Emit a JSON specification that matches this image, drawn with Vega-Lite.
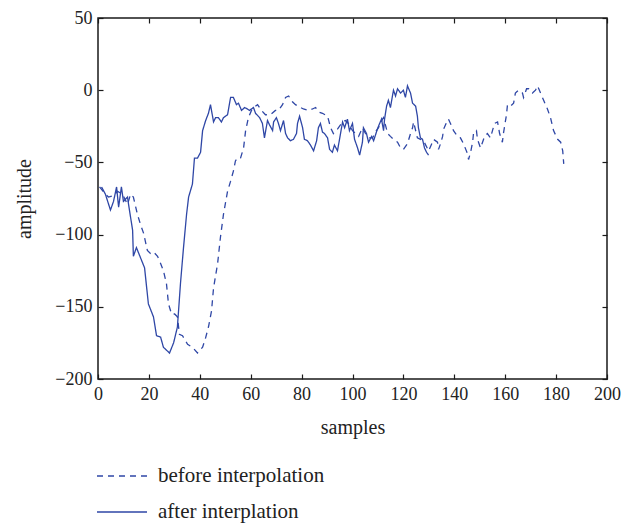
{
  "$schema": "https://vega.github.io/schema/vega-lite/v6.json",
  "width": 509,
  "height": 361,
  "autosize": "none",
  "padding": {"left": 98, "top": 18, "right": 19, "bottom": 145},
  "config": {
    "font": "Liberation Serif",
    "view": {"stroke": "#1a1a1a", "strokeWidth": 1.5},
    "axis": {
      "grid": false,
      "domain": false,
      "labelFlush": false,
      "tickColor": "#1a1a1a",
      "tickWidth": 1.2,
      "tickSize": -5,
      "labelFont": "Liberation Serif",
      "labelFontSize": 18,
      "labelColor": "#222222",
      "titleFont": "Liberation Serif",
      "titleFontSize": 20,
      "titleFontWeight": "normal",
      "titleColor": "#222222"
    }
  },
  "datasets": {
    "signals": [
      {"sample": 1.4, "amplitude": -67, "series": "after interplation"},
      {"sample": 2.9, "amplitude": -72, "series": "after interplation"},
      {"sample": 4.9, "amplitude": -83, "series": "after interplation"},
      {"sample": 6.1, "amplitude": -77, "series": "after interplation"},
      {"sample": 7.3, "amplitude": -67, "series": "after interplation"},
      {"sample": 8.1, "amplitude": -81, "series": "after interplation"},
      {"sample": 9.2, "amplitude": -67, "series": "after interplation"},
      {"sample": 10.0, "amplitude": -77, "series": "after interplation"},
      {"sample": 11.6, "amplitude": -74, "series": "after interplation"},
      {"sample": 12.0, "amplitude": -79, "series": "after interplation"},
      {"sample": 13.6, "amplitude": -97, "series": "after interplation"},
      {"sample": 13.9, "amplitude": -115, "series": "after interplation"},
      {"sample": 15.1, "amplitude": -109, "series": "after interplation"},
      {"sample": 16.7, "amplitude": -116, "series": "after interplation"},
      {"sample": 18.3, "amplitude": -123, "series": "after interplation"},
      {"sample": 19.8, "amplitude": -148, "series": "after interplation"},
      {"sample": 21.8, "amplitude": -157, "series": "after interplation"},
      {"sample": 23.0, "amplitude": -170, "series": "after interplation"},
      {"sample": 24.6, "amplitude": -171, "series": "after interplation"},
      {"sample": 25.7, "amplitude": -178, "series": "after interplation"},
      {"sample": 28.1, "amplitude": -182, "series": "after interplation"},
      {"sample": 29.7, "amplitude": -175, "series": "after interplation"},
      {"sample": 31.2, "amplitude": -164, "series": "after interplation"},
      {"sample": 32.4, "amplitude": -134, "series": "after interplation"},
      {"sample": 33.6, "amplitude": -109, "series": "after interplation"},
      {"sample": 34.8, "amplitude": -86, "series": "after interplation"},
      {"sample": 35.6, "amplitude": -74, "series": "after interplation"},
      {"sample": 37.1, "amplitude": -65, "series": "after interplation"},
      {"sample": 37.9, "amplitude": -47, "series": "after interplation"},
      {"sample": 39.1, "amplitude": -47, "series": "after interplation"},
      {"sample": 40.3, "amplitude": -43, "series": "after interplation"},
      {"sample": 41.1, "amplitude": -28, "series": "after interplation"},
      {"sample": 42.3, "amplitude": -21, "series": "after interplation"},
      {"sample": 43.4, "amplitude": -16, "series": "after interplation"},
      {"sample": 44.2, "amplitude": -10, "series": "after interplation"},
      {"sample": 45.4, "amplitude": -22, "series": "after interplation"},
      {"sample": 46.2, "amplitude": -19, "series": "after interplation"},
      {"sample": 47.3, "amplitude": -19, "series": "after interplation"},
      {"sample": 48.5, "amplitude": -22, "series": "after interplation"},
      {"sample": 49.3, "amplitude": -19, "series": "after interplation"},
      {"sample": 50.9, "amplitude": -17, "series": "after interplation"},
      {"sample": 52.1, "amplitude": -5, "series": "after interplation"},
      {"sample": 53.2, "amplitude": -5, "series": "after interplation"},
      {"sample": 54.4, "amplitude": -10, "series": "after interplation"},
      {"sample": 55.2, "amplitude": -9, "series": "after interplation"},
      {"sample": 56.4, "amplitude": -14, "series": "after interplation"},
      {"sample": 57.6, "amplitude": -12, "series": "after interplation"},
      {"sample": 58.7, "amplitude": -13, "series": "after interplation"},
      {"sample": 59.5, "amplitude": -14, "series": "after interplation"},
      {"sample": 61.1, "amplitude": -12, "series": "after interplation"},
      {"sample": 61.9, "amplitude": -16, "series": "after interplation"},
      {"sample": 63.5, "amplitude": -19, "series": "after interplation"},
      {"sample": 64.6, "amplitude": -23, "series": "after interplation"},
      {"sample": 65.4, "amplitude": -33, "series": "after interplation"},
      {"sample": 66.6, "amplitude": -21, "series": "after interplation"},
      {"sample": 67.4, "amplitude": -24, "series": "after interplation"},
      {"sample": 68.6, "amplitude": -28, "series": "after interplation"},
      {"sample": 69.0, "amplitude": -22, "series": "after interplation"},
      {"sample": 70.1, "amplitude": -19, "series": "after interplation"},
      {"sample": 70.9, "amplitude": -23, "series": "after interplation"},
      {"sample": 71.7, "amplitude": -28, "series": "after interplation"},
      {"sample": 72.9, "amplitude": -21, "series": "after interplation"},
      {"sample": 73.7, "amplitude": -30, "series": "after interplation"},
      {"sample": 74.5, "amplitude": -33, "series": "after interplation"},
      {"sample": 75.6, "amplitude": -35, "series": "after interplation"},
      {"sample": 76.8, "amplitude": -34, "series": "after interplation"},
      {"sample": 78.0, "amplitude": -30, "series": "after interplation"},
      {"sample": 78.4, "amplitude": -23, "series": "after interplation"},
      {"sample": 79.2, "amplitude": -18, "series": "after interplation"},
      {"sample": 80.4, "amplitude": -26, "series": "after interplation"},
      {"sample": 81.1, "amplitude": -34, "series": "after interplation"},
      {"sample": 82.3, "amplitude": -35, "series": "after interplation"},
      {"sample": 83.5, "amplitude": -38, "series": "after interplation"},
      {"sample": 84.7, "amplitude": -42, "series": "after interplation"},
      {"sample": 85.9, "amplitude": -35, "series": "after interplation"},
      {"sample": 86.6, "amplitude": -26, "series": "after interplation"},
      {"sample": 87.4, "amplitude": -23, "series": "after interplation"},
      {"sample": 88.2, "amplitude": -29, "series": "after interplation"},
      {"sample": 89.0, "amplitude": -30, "series": "after interplation"},
      {"sample": 90.2, "amplitude": -33, "series": "after interplation"},
      {"sample": 91.0, "amplitude": -41, "series": "after interplation"},
      {"sample": 92.1, "amplitude": -43, "series": "after interplation"},
      {"sample": 92.9, "amplitude": -38, "series": "after interplation"},
      {"sample": 94.1, "amplitude": -42, "series": "after interplation"},
      {"sample": 94.9, "amplitude": -34, "series": "after interplation"},
      {"sample": 96.1, "amplitude": -22, "series": "after interplation"},
      {"sample": 96.9, "amplitude": -26, "series": "after interplation"},
      {"sample": 98.0, "amplitude": -20, "series": "after interplation"},
      {"sample": 98.8, "amplitude": -28, "series": "after interplation"},
      {"sample": 100.0, "amplitude": -23, "series": "after interplation"},
      {"sample": 100.8, "amplitude": -34, "series": "after interplation"},
      {"sample": 102.0, "amplitude": -40, "series": "after interplation"},
      {"sample": 102.8, "amplitude": -45, "series": "after interplation"},
      {"sample": 103.9, "amplitude": -36, "series": "after interplation"},
      {"sample": 104.3, "amplitude": -26, "series": "after interplation"},
      {"sample": 105.5, "amplitude": -30, "series": "after interplation"},
      {"sample": 106.3, "amplitude": -36, "series": "after interplation"},
      {"sample": 107.5, "amplitude": -32, "series": "after interplation"},
      {"sample": 108.3, "amplitude": -35, "series": "after interplation"},
      {"sample": 109.4, "amplitude": -29, "series": "after interplation"},
      {"sample": 110.2, "amplitude": -25, "series": "after interplation"},
      {"sample": 111.4, "amplitude": -20, "series": "after interplation"},
      {"sample": 112.2, "amplitude": -28, "series": "after interplation"},
      {"sample": 112.6, "amplitude": -20, "series": "after interplation"},
      {"sample": 113.4, "amplitude": -11, "series": "after interplation"},
      {"sample": 114.1, "amplitude": -7, "series": "after interplation"},
      {"sample": 114.9, "amplitude": -12, "series": "after interplation"},
      {"sample": 116.1, "amplitude": 0, "series": "after interplation"},
      {"sample": 116.9, "amplitude": -4, "series": "after interplation"},
      {"sample": 117.7, "amplitude": 1, "series": "after interplation"},
      {"sample": 118.9, "amplitude": -2, "series": "after interplation"},
      {"sample": 120.0, "amplitude": 0, "series": "after interplation"},
      {"sample": 120.8, "amplitude": -5, "series": "after interplation"},
      {"sample": 121.6, "amplitude": 3, "series": "after interplation"},
      {"sample": 122.8, "amplitude": -2, "series": "after interplation"},
      {"sample": 123.6, "amplitude": -9, "series": "after interplation"},
      {"sample": 124.8, "amplitude": -11, "series": "after interplation"},
      {"sample": 125.5, "amplitude": -18, "series": "after interplation"},
      {"sample": 125.9, "amplitude": -26, "series": "after interplation"},
      {"sample": 126.7, "amplitude": -33, "series": "after interplation"},
      {"sample": 127.5, "amplitude": -34, "series": "after interplation"},
      {"sample": 128.3, "amplitude": -40, "series": "after interplation"},
      {"sample": 129.1, "amplitude": -43, "series": "after interplation"},
      {"sample": 129.9, "amplitude": -45, "series": "after interplation"},

      {"sample": 0.6, "amplitude": -67, "series": "before interpolation"},
      {"sample": 2.9, "amplitude": -72, "series": "before interpolation"},
      {"sample": 4.1, "amplitude": -74, "series": "before interpolation"},
      {"sample": 6.1, "amplitude": -73, "series": "before interpolation"},
      {"sample": 7.7, "amplitude": -70, "series": "before interpolation"},
      {"sample": 9.6, "amplitude": -72, "series": "before interpolation"},
      {"sample": 11.6, "amplitude": -79, "series": "before interpolation"},
      {"sample": 12.8, "amplitude": -72, "series": "before interpolation"},
      {"sample": 13.9, "amplitude": -74, "series": "before interpolation"},
      {"sample": 15.5, "amplitude": -86, "series": "before interpolation"},
      {"sample": 16.7, "amplitude": -93, "series": "before interpolation"},
      {"sample": 17.9, "amplitude": -99, "series": "before interpolation"},
      {"sample": 19.4, "amplitude": -111, "series": "before interpolation"},
      {"sample": 20.6, "amplitude": -113, "series": "before interpolation"},
      {"sample": 21.8, "amplitude": -112, "series": "before interpolation"},
      {"sample": 23.4, "amplitude": -115, "series": "before interpolation"},
      {"sample": 24.6, "amplitude": -120, "series": "before interpolation"},
      {"sample": 25.7, "amplitude": -125, "series": "before interpolation"},
      {"sample": 26.9, "amplitude": -134, "series": "before interpolation"},
      {"sample": 27.7, "amplitude": -148, "series": "before interpolation"},
      {"sample": 28.9, "amplitude": -155, "series": "before interpolation"},
      {"sample": 30.1, "amplitude": -155, "series": "before interpolation"},
      {"sample": 31.2, "amplitude": -157, "series": "before interpolation"},
      {"sample": 32.0, "amplitude": -169, "series": "before interpolation"},
      {"sample": 33.2, "amplitude": -170, "series": "before interpolation"},
      {"sample": 35.2, "amplitude": -176, "series": "before interpolation"},
      {"sample": 37.1, "amplitude": -178, "series": "before interpolation"},
      {"sample": 39.1, "amplitude": -182, "series": "before interpolation"},
      {"sample": 41.1, "amplitude": -178, "series": "before interpolation"},
      {"sample": 42.2, "amplitude": -172, "series": "before interpolation"},
      {"sample": 43.4, "amplitude": -164, "series": "before interpolation"},
      {"sample": 44.6, "amplitude": -153, "series": "before interpolation"},
      {"sample": 45.4, "amplitude": -137, "series": "before interpolation"},
      {"sample": 47.0, "amplitude": -120, "series": "before interpolation"},
      {"sample": 48.1, "amplitude": -102, "series": "before interpolation"},
      {"sample": 49.3, "amplitude": -86, "series": "before interpolation"},
      {"sample": 50.9, "amplitude": -70, "series": "before interpolation"},
      {"sample": 52.1, "amplitude": -63, "series": "before interpolation"},
      {"sample": 53.2, "amplitude": -56, "series": "before interpolation"},
      {"sample": 54.0, "amplitude": -49, "series": "before interpolation"},
      {"sample": 54.8, "amplitude": -47, "series": "before interpolation"},
      {"sample": 56.0, "amplitude": -47, "series": "before interpolation"},
      {"sample": 57.2, "amplitude": -40, "series": "before interpolation"},
      {"sample": 58.0, "amplitude": -28, "series": "before interpolation"},
      {"sample": 59.1, "amplitude": -19, "series": "before interpolation"},
      {"sample": 60.3, "amplitude": -14, "series": "before interpolation"},
      {"sample": 61.1, "amplitude": -12, "series": "before interpolation"},
      {"sample": 62.7, "amplitude": -10, "series": "before interpolation"},
      {"sample": 64.2, "amplitude": -14, "series": "before interpolation"},
      {"sample": 65.8, "amplitude": -17, "series": "before interpolation"},
      {"sample": 67.8, "amplitude": -17, "series": "before interpolation"},
      {"sample": 69.7, "amplitude": -14, "series": "before interpolation"},
      {"sample": 70.9, "amplitude": -14, "series": "before interpolation"},
      {"sample": 72.5, "amplitude": -10, "series": "before interpolation"},
      {"sample": 73.7, "amplitude": -5, "series": "before interpolation"},
      {"sample": 74.9, "amplitude": -4, "series": "before interpolation"},
      {"sample": 76.4, "amplitude": -8, "series": "before interpolation"},
      {"sample": 77.6, "amplitude": -10, "series": "before interpolation"},
      {"sample": 79.6, "amplitude": -12, "series": "before interpolation"},
      {"sample": 80.7, "amplitude": -13, "series": "before interpolation"},
      {"sample": 82.7, "amplitude": -14, "series": "before interpolation"},
      {"sample": 84.3, "amplitude": -13, "series": "before interpolation"},
      {"sample": 85.5, "amplitude": -12, "series": "before interpolation"},
      {"sample": 86.6, "amplitude": -15, "series": "before interpolation"},
      {"sample": 88.2, "amplitude": -16, "series": "before interpolation"},
      {"sample": 90.2, "amplitude": -18, "series": "before interpolation"},
      {"sample": 91.4, "amplitude": -26, "series": "before interpolation"},
      {"sample": 92.5, "amplitude": -30, "series": "before interpolation"},
      {"sample": 94.1, "amplitude": -27, "series": "before interpolation"},
      {"sample": 96.1, "amplitude": -22, "series": "before interpolation"},
      {"sample": 97.2, "amplitude": -21, "series": "before interpolation"},
      {"sample": 98.4, "amplitude": -23, "series": "before interpolation"},
      {"sample": 100.0, "amplitude": -28, "series": "before interpolation"},
      {"sample": 101.2, "amplitude": -30, "series": "before interpolation"},
      {"sample": 102.4, "amplitude": -32, "series": "before interpolation"},
      {"sample": 103.9, "amplitude": -26, "series": "before interpolation"},
      {"sample": 105.1, "amplitude": -30, "series": "before interpolation"},
      {"sample": 106.3, "amplitude": -33, "series": "before interpolation"},
      {"sample": 107.9, "amplitude": -33, "series": "before interpolation"},
      {"sample": 109.0, "amplitude": -29, "series": "before interpolation"},
      {"sample": 110.2, "amplitude": -26, "series": "before interpolation"},
      {"sample": 111.8, "amplitude": -20, "series": "before interpolation"},
      {"sample": 112.2, "amplitude": -19, "series": "before interpolation"},
      {"sample": 113.8, "amplitude": -30, "series": "before interpolation"},
      {"sample": 114.9, "amplitude": -32, "series": "before interpolation"},
      {"sample": 116.1, "amplitude": -34, "series": "before interpolation"},
      {"sample": 117.7, "amplitude": -36, "series": "before interpolation"},
      {"sample": 118.9, "amplitude": -40, "series": "before interpolation"},
      {"sample": 120.0, "amplitude": -41, "series": "before interpolation"},
      {"sample": 121.6, "amplitude": -37, "series": "before interpolation"},
      {"sample": 122.8, "amplitude": -30, "series": "before interpolation"},
      {"sample": 123.6, "amplitude": -26, "series": "before interpolation"},
      {"sample": 124.0, "amplitude": -22, "series": "before interpolation"},
      {"sample": 125.5, "amplitude": -33, "series": "before interpolation"},
      {"sample": 126.7, "amplitude": -34, "series": "before interpolation"},
      {"sample": 127.9, "amplitude": -35, "series": "before interpolation"},
      {"sample": 129.9, "amplitude": -42, "series": "before interpolation"},
      {"sample": 131.4, "amplitude": -36, "series": "before interpolation"},
      {"sample": 131.8, "amplitude": -34, "series": "before interpolation"},
      {"sample": 133.4, "amplitude": -36, "series": "before interpolation"},
      {"sample": 133.8, "amplitude": -41, "series": "before interpolation"},
      {"sample": 134.6, "amplitude": -37, "series": "before interpolation"},
      {"sample": 135.4, "amplitude": -32, "series": "before interpolation"},
      {"sample": 135.8, "amplitude": -27, "series": "before interpolation"},
      {"sample": 137.3, "amplitude": -21, "series": "before interpolation"},
      {"sample": 137.7, "amplitude": -20, "series": "before interpolation"},
      {"sample": 138.5, "amplitude": -23, "series": "before interpolation"},
      {"sample": 139.7, "amplitude": -28, "series": "before interpolation"},
      {"sample": 141.3, "amplitude": -32, "series": "before interpolation"},
      {"sample": 142.4, "amplitude": -33, "series": "before interpolation"},
      {"sample": 143.6, "amplitude": -37, "series": "before interpolation"},
      {"sample": 145.2, "amplitude": -44, "series": "before interpolation"},
      {"sample": 145.6, "amplitude": -48, "series": "before interpolation"},
      {"sample": 146.4, "amplitude": -43, "series": "before interpolation"},
      {"sample": 147.2, "amplitude": -36, "series": "before interpolation"},
      {"sample": 147.6, "amplitude": -29, "series": "before interpolation"},
      {"sample": 148.7, "amplitude": -28, "series": "before interpolation"},
      {"sample": 149.1, "amplitude": -34, "series": "before interpolation"},
      {"sample": 150.3, "amplitude": -40, "series": "before interpolation"},
      {"sample": 151.1, "amplitude": -36, "series": "before interpolation"},
      {"sample": 151.9, "amplitude": -32, "series": "before interpolation"},
      {"sample": 153.0, "amplitude": -30, "series": "before interpolation"},
      {"sample": 154.2, "amplitude": -33, "series": "before interpolation"},
      {"sample": 155.0, "amplitude": -28, "series": "before interpolation"},
      {"sample": 155.8, "amplitude": -23, "series": "before interpolation"},
      {"sample": 157.0, "amplitude": -22, "series": "before interpolation"},
      {"sample": 157.8, "amplitude": -30, "series": "before interpolation"},
      {"sample": 158.9, "amplitude": -36, "series": "before interpolation"},
      {"sample": 159.3, "amplitude": -30, "series": "before interpolation"},
      {"sample": 160.5, "amplitude": -17, "series": "before interpolation"},
      {"sample": 160.9, "amplitude": -10, "series": "before interpolation"},
      {"sample": 162.1, "amplitude": -11, "series": "before interpolation"},
      {"sample": 163.3, "amplitude": -9, "series": "before interpolation"},
      {"sample": 164.0, "amplitude": -2, "series": "before interpolation"},
      {"sample": 165.2, "amplitude": 0, "series": "before interpolation"},
      {"sample": 166.8, "amplitude": -2, "series": "before interpolation"},
      {"sample": 167.2, "amplitude": -5, "series": "before interpolation"},
      {"sample": 168.4, "amplitude": 1, "series": "before interpolation"},
      {"sample": 169.2, "amplitude": 1, "series": "before interpolation"},
      {"sample": 170.7, "amplitude": -2, "series": "before interpolation"},
      {"sample": 171.9, "amplitude": 0, "series": "before interpolation"},
      {"sample": 172.7, "amplitude": 3, "series": "before interpolation"},
      {"sample": 173.9, "amplitude": -2, "series": "before interpolation"},
      {"sample": 175.1, "amplitude": -7, "series": "before interpolation"},
      {"sample": 176.6, "amplitude": -13, "series": "before interpolation"},
      {"sample": 177.8, "amplitude": -19, "series": "before interpolation"},
      {"sample": 179.0, "amplitude": -28, "series": "before interpolation"},
      {"sample": 180.6, "amplitude": -34, "series": "before interpolation"},
      {"sample": 181.8, "amplitude": -36, "series": "before interpolation"},
      {"sample": 182.6, "amplitude": -42, "series": "before interpolation"},
      {"sample": 183.0, "amplitude": -51, "series": "before interpolation"}
    ]
  },
  "data": {"name": "signals"},
  "layer": [
    {
      "mark": {"type": "line", "color": "#2f47a6", "strokeWidth": 1.3},
      "encoding": {
        "x": {
          "field": "sample", "type": "quantitative",
          "scale": {"domain": [0, 200], "nice": false},
          "axis": {"orient": "bottom", "title": "samples", "values": [0, 20, 40, 60, 80, 100, 120, 140, 160, 180, 200], "labelPadding": 11, "titlePadding": 14}
        },
        "y": {
          "field": "amplitude", "type": "quantitative",
          "scale": {"domain": [-200, 50], "nice": false},
          "axis": {"orient": "left", "title": "amplitude", "values": [-200, -150, -100, -50, 0, 50], "labelPadding": 11, "titlePadding": 20}
        },
        "strokeDash": {
          "field": "series", "type": "nominal",
          "scale": {"domain": ["before interpolation", "after interplation"], "range": [[6, 5], [1, 0]]},
          "legend": {
            "title": null,
            "orient": "none",
            "legendX": -2,
            "legendY": 432,
            "symbolType": "stroke",
            "symbolSize": 2500,
            "symbolStrokeWidth": 1.3,
            "symbolStrokeColor": "#2f47a6",
            "labelFont": "Liberation Serif",
            "labelFontSize": 21,
            "labelColor": "#222222",
            "labelOffset": 10,
            "labelLimit": 400,
            "rowPadding": -23
          }
        }
      }
    },
    {
      "mark": {"type": "line", "opacity": 0},
      "encoding": {
        "x": {
          "field": "sample", "type": "quantitative",
          "axis": {"orient": "top", "title": null, "labels": false, "values": [0, 20, 40, 60, 80, 100, 120, 140, 160, 180, 200]}
        },
        "y": {
          "field": "amplitude", "type": "quantitative",
          "axis": {"orient": "right", "title": null, "labels": false, "values": [-200, -150, -100, -50, 0, 50]}
        },
        "detail": {"field": "series"}
      }
    }
  ],
  "resolve": {"axis": {"x": "independent", "y": "independent"}}
}
